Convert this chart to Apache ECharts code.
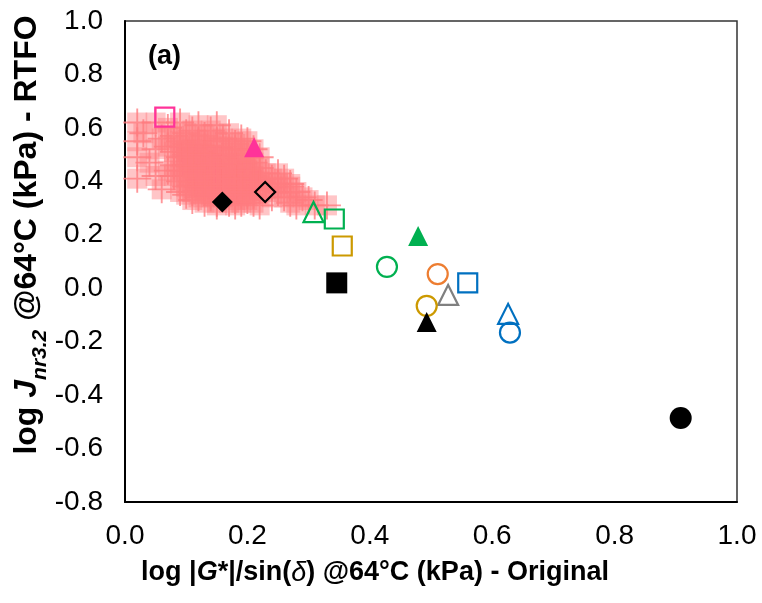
<!DOCTYPE html>
<html>
<head>
<meta charset="utf-8">
<script src="https://cdn.jsdelivr.net/npm/echarts@6/dist/echarts.min.js"></script>
<style>
  html, body { margin: 0; padding: 0; background: #fff; }
  #chart { width: 762px; height: 603px; }
</style>
</head>
<body>
<div id="chart"></div>
<script>
// Axis tick labels
const xTicks = ['0.0', '0.2', '0.4', '0.6', '0.8', '1.0'];
const yTicks = ['-0.8', '-0.6', '-0.4', '-0.2', '0.0', '0.2', '0.4', '0.6', '0.8', '1.0'];

// Reference population (pink cloud)
const cloudX = [
  0.02, 0.05, 0.09, 0.12, 0.15,
  0.03, 0.07, 0.11, 0.14, 0.17,
  0.08, 0.10, 0.13, 0.16, 0.19,
  0.02, 0.06, 0.09, 0.12, 0.15, 0.18, 0.20,
  0.07, 0.10, 0.11, 0.13, 0.16, 0.19, 0.21,
  0.05, 0.08, 0.10, 0.12, 0.14, 0.17, 0.20, 0.22,
  0.02, 0.09, 0.11, 0.13, 0.15, 0.18, 0.21,
  0.04, 0.08, 0.10, 0.12, 0.14, 0.16, 0.19, 0.22,
  0.07, 0.09, 0.11, 0.13, 0.15, 0.17, 0.20, 0.23, 0.25,
  0.02, 0.05, 0.08, 0.10, 0.12, 0.14, 0.16, 0.18, 0.21, 0.24, 0.26,
  0.09, 0.11, 0.13, 0.15, 0.17, 0.19, 0.22, 0.25, 0.27,
  0.06, 0.10, 0.12, 0.14, 0.16, 0.18, 0.20, 0.23, 0.27,
  0.09, 0.11, 0.13, 0.15, 0.17, 0.19, 0.21, 0.25, 0.28,
  0.10, 0.12, 0.14, 0.16, 0.18, 0.20, 0.24, 0.26, 0.29,
  0.11, 0.13, 0.15, 0.17, 0.19, 0.21, 0.27, 0.30,
  0.15, 0.18, 0.22, 0.28, 0.31, 0.33,
  0.09, 0.10, 0.12, 0.13, 0.15, 0.16, 0.18, 0.19,
  0.10, 0.11, 0.13, 0.14, 0.16, 0.17, 0.19, 0.20,
  0.11, 0.12, 0.14, 0.15, 0.17, 0.18, 0.20, 0.21,
  0.12, 0.13, 0.15, 0.16, 0.18, 0.19, 0.21, 0.22,
  0.13, 0.14, 0.16, 0.17, 0.19, 0.20, 0.22, 0.24
];
const cloudY = [
  0.62, 0.62, 0.62, 0.61, 0.61,
  0.58, 0.60, 0.59, 0.59, 0.58,
  0.57, 0.58, 0.57, 0.56, 0.56,
  0.55, 0.56, 0.55, 0.55, 0.55, 0.54, 0.55,
  0.53, 0.54, 0.52, 0.53, 0.53, 0.52, 0.52,
  0.52, 0.51, 0.50, 0.51, 0.50, 0.50, 0.50, 0.49,
  0.49, 0.49, 0.48, 0.48, 0.48, 0.47, 0.47,
  0.47, 0.46, 0.46, 0.46, 0.46, 0.45, 0.45, 0.45,
  0.44, 0.44, 0.44, 0.44, 0.43, 0.43, 0.43, 0.43, 0.43,
  0.41, 0.42, 0.42, 0.42, 0.42, 0.42, 0.41, 0.41, 0.41, 0.41, 0.41,
  0.40, 0.40, 0.40, 0.39, 0.39, 0.39, 0.39, 0.39, 0.39,
  0.37, 0.38, 0.38, 0.38, 0.37, 0.37, 0.37, 0.37, 0.38,
  0.36, 0.36, 0.36, 0.36, 0.35, 0.35, 0.35, 0.36, 0.36,
  0.35, 0.34, 0.34, 0.34, 0.33, 0.33, 0.34, 0.34, 0.34,
  0.33, 0.32, 0.32, 0.32, 0.32, 0.32, 0.32, 0.33,
  0.31, 0.31, 0.31, 0.31, 0.31, 0.31,
  0.53, 0.51, 0.54, 0.50, 0.53, 0.49, 0.52, 0.48,
  0.49, 0.46, 0.50, 0.47, 0.49, 0.46, 0.48, 0.44,
  0.45, 0.43, 0.46, 0.42, 0.45, 0.41, 0.44, 0.42,
  0.41, 0.38, 0.42, 0.39, 0.41, 0.38, 0.40, 0.40,
  0.37, 0.35, 0.38, 0.36, 0.37, 0.35, 0.37, 0.38
];

// Individual binders: [x, y]
const magentaOpenSquare = [[0.065, 0.64]];
const magentaTriangle = [[0.211, 0.528]];
const blackDiamond = [[0.159, 0.323]];
const blackOpenDiamond = [[0.229, 0.36]];
const greenOpenTriangle = [[0.308, 0.285]];
const greenOpenSquare = [[0.342, 0.259]];
const goldOpenSquare = [[0.355, 0.158]];
const blackSquare = [[0.346, 0.02]];
const greenTriangle = [[0.479, 0.195]];
const greenOpenCircle = [[0.428, 0.08]];
const orangeOpenCircle = [[0.511, 0.053]];
const blueOpenSquare = [[0.560, 0.02]];
const grayOpenTriangle = [[0.528, -0.025]];
const goldOpenCircle = [[0.493, -0.066]];
const blackTriangle = [[0.493, -0.126]];
const blueOpenTriangle = [[0.626, -0.096]];
const blueOpenCircle = [[0.629, -0.166]];
const blackCircle = [[0.908, -0.486]];

const cloud = cloudX.map((x, i) => [x, cloudY[i]]);
// plus-shaped marker drawn as a thin filled cross
const crossPath = 'path://M14,0H16V14H30V16H16V30H14V16H0V14H14Z';
const FONT = '"Liberation Sans", Arial, sans-serif';

function hollow(data, symbol, color, size) {
  return {
    type: 'scatter', data, symbol, symbolSize: size, z: 5,
    itemStyle: { color: 'rgba(0,0,0,0)', borderColor: color, borderWidth: 2.2, opacity: 1 },
    emphasis: { disabled: true }, silent: true
  };
}
function solid(data, symbol, color, size) {
  return {
    type: 'scatter', data, symbol, symbolSize: size, z: 5,
    itemStyle: { color, opacity: 1 },
    emphasis: { disabled: true }, silent: true
  };
}

const chart = echarts.init(document.getElementById('chart'), null, { renderer: 'canvas' });

const option = {
  animation: false,
  backgroundColor: '#fff',
  grid: {
    left: 125, right: 25, top: 21, bottom: 101,
    show: true, borderColor: '#333', borderWidth: 1.5, backgroundColor: 'transparent'
  },
  xAxis: {
    type: 'value', min: 0, max: 1, interval: 0.2,
    axisLine: { show: true, onZero: false, lineStyle: { color: '#000', width: 2 } },
    axisTick: { show: false },
    splitLine: { show: false },
    axisLabel: {
      margin: 20, color: '#000', fontSize: 28, fontFamily: FONT,
      formatter: (v) => xTicks[Math.round(v / 0.2)]
    }
  },
  yAxis: {
    type: 'value', min: -0.8, max: 1, interval: 0.2,
    axisLine: { show: true, onZero: false, lineStyle: { color: '#000', width: 2 } },
    axisTick: { show: false },
    splitLine: { show: false },
    axisLabel: {
      margin: 22, color: '#000', fontSize: 28, fontFamily: FONT,
      formatter: (v) => yTicks[Math.round((v + 0.8) / 0.2)]
    }
  },
  graphic: [
    {
      type: 'text', left: 148, top: 43, silent: true,
      style: { text: '(a)', font: 'bold 27px ' + FONT, fill: '#000' }
    },
    {
      type: 'text', x: 375, y: 573, silent: true,
      style: {
        text: '{b|log |}{bi|G}{b|*|/sin(}{i|δ}{b|) @64°C (kPa) - Original}',
        align: 'center', verticalAlign: 'middle',
        rich: {
          b: { fontFamily: FONT, fontWeight: 'bold', fontSize: 27, fill: '#000' },
          bi: { fontFamily: FONT, fontWeight: 'bold', fontStyle: 'italic', fontSize: 27, fill: '#000' },
          i: { fontFamily: FONT, fontStyle: 'italic', fontSize: 27, fill: '#000' }
        }
      }
    },
    {
      type: 'text', x: 29, y: 235, rotation: Math.PI / 2, silent: true,
      style: {
        text: '{b|log }{bi|J}{s|nr3.2}{b| @64°C (kPa) - RTFO}',
        align: 'center', verticalAlign: 'middle',
        rich: {
          b: { fontFamily: FONT, fontWeight: 'bold', fontSize: 32, lineHeight: 35, verticalAlign: 'top', fill: '#000' },
          bi: { fontFamily: FONT, fontWeight: 'bold', fontStyle: 'italic', fontSize: 32, lineHeight: 35, verticalAlign: 'top', fill: '#000' },
          s: { fontFamily: FONT, fontWeight: 'bold', fontStyle: 'italic', fontSize: 21, lineHeight: 21, padding: [18, 0, 0, 0], verticalAlign: 'top', fill: '#000' }
        }
      }
    }
  ],
  series: [
    {
      type: 'scatter', data: cloud, symbol: 'rect', symbolSize: 20, z: 2,
      itemStyle: { color: 'rgba(255,124,128,0.55)' },
      emphasis: { disabled: true }, silent: true
    },
    {
      type: 'scatter', data: cloud, symbol: crossPath, symbolSize: 28, z: 3,
      itemStyle: { color: '#FF7C80' },
      emphasis: { disabled: true }, silent: true
    },
    hollow(magentaOpenSquare, 'rect', '#FF3399', 19),
    solid(magentaTriangle, 'triangle', '#FF3399', 20),
    solid(blackDiamond, 'diamond', '#000', 21),
    hollow(blackOpenDiamond, 'diamond', '#000', 20),
    hollow(greenOpenTriangle, 'triangle', '#00B050', 20),
    hollow(greenOpenSquare, 'rect', '#00B050', 19),
    hollow(goldOpenSquare, 'rect', '#CC9900', 19),
    solid(blackSquare, 'rect', '#000', 21),
    solid(greenTriangle, 'triangle', '#00B050', 20),
    hollow(greenOpenCircle, 'circle', '#00B050', 20),
    hollow(orangeOpenCircle, 'circle', '#ED7D31', 20),
    hollow(blueOpenSquare, 'rect', '#0070C0', 19),
    hollow(grayOpenTriangle, 'triangle', '#808080', 20),
    hollow(goldOpenCircle, 'circle', '#CC9900', 20),
    solid(blackTriangle, 'triangle', '#000', 20),
    hollow(blueOpenTriangle, 'triangle', '#0070C0', 20),
    hollow(blueOpenCircle, 'circle', '#0070C0', 20),
    solid(blackCircle, 'circle', '#000', 22)
  ]
};

chart.setOption(option);
</script>
</body>
</html>
